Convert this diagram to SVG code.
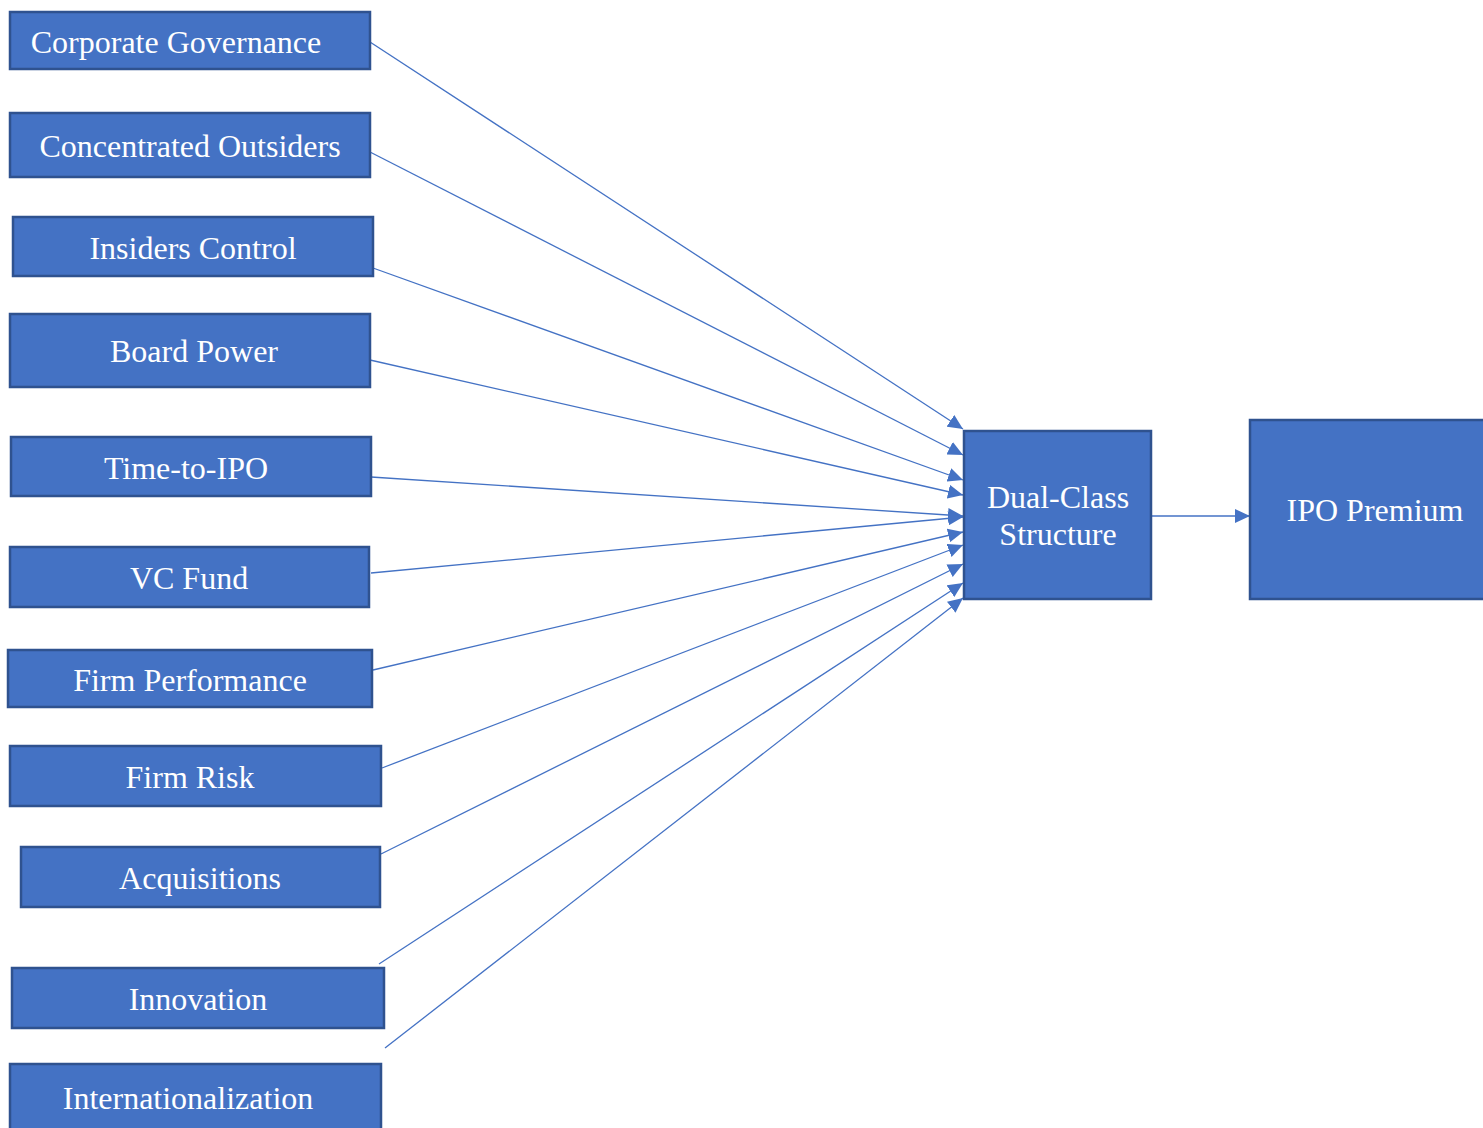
<svg xmlns="http://www.w3.org/2000/svg" width="1483" height="1128" viewBox="0 0 1483 1128">
<defs>
<style>
.box{fill:#4472C4;stroke:#2F528F;stroke-width:2.5}
.lbl{fill:#fff;font-family:"Liberation Serif","Times New Roman",serif;font-size:32px;text-anchor:middle}
.conn{stroke:#4472C4;stroke-width:1.3;fill:none;marker-end:url(#ah)}
</style>
<marker id="ah" markerUnits="userSpaceOnUse" markerWidth="16" markerHeight="14" refX="15" refY="7" orient="auto">
<path d="M0,0 L15,7 L0,14 Z" fill="#4472C4"/>
</marker>
</defs>
<rect width="1483" height="1128" fill="#fff"/>
<g id="connectors">
<line class="conn" x1="370" y1="42" x2="963" y2="429"/>
<line class="conn" x1="370" y1="152" x2="963" y2="455"/>
<line class="conn" x1="373" y1="268" x2="963" y2="480"/>
<line class="conn" x1="370" y1="360" x2="963" y2="495"/>
<line class="conn" x1="371" y1="477" x2="963" y2="516"/>
<line class="conn" x1="371" y1="573" x2="963" y2="517"/>
<line class="conn" x1="373" y1="670" x2="963" y2="532"/>
<line class="conn" x1="382" y1="768" x2="963" y2="545"/>
<line class="conn" x1="381" y1="854" x2="963" y2="564"/>
<line class="conn" x1="379" y1="964" x2="963" y2="583"/>
<line class="conn" x1="385" y1="1048" x2="963" y2="598"/>
<line class="conn" x1="1152" y1="516" x2="1250" y2="516"/>
</g>
<g id="n1"><rect class="box" x="10" y="12" width="360" height="57"/><text class="lbl" x="176" y="53">Corporate Governance</text></g>
<g id="n2"><rect class="box" x="10" y="113" width="360" height="64"/><text class="lbl" x="190" y="157">Concentrated Outsiders</text></g>
<g id="n3"><rect class="box" x="13" y="217" width="360" height="59"/><text class="lbl" x="193" y="259">Insiders Control</text></g>
<g id="n4"><rect class="box" x="10" y="314" width="360" height="73"/><text class="lbl" x="194" y="362">Board Power</text></g>
<g id="n5"><rect class="box" x="11" y="437" width="360" height="59"/><text class="lbl" x="186" y="479">Time-to-IPO</text></g>
<g id="n6"><rect class="box" x="10" y="547" width="359" height="60"/><text class="lbl" x="189" y="589">VC Fund</text></g>
<g id="n7"><rect class="box" x="8" y="650" width="364" height="57"/><text class="lbl" x="190" y="691">Firm Performance</text></g>
<g id="n8"><rect class="box" x="10" y="746" width="371" height="60"/><text class="lbl" x="190" y="788">Firm Risk</text></g>
<g id="n9"><rect class="box" x="21" y="847" width="359" height="60"/><text class="lbl" x="200" y="889">Acquisitions</text></g>
<g id="n10"><rect class="box" x="12" y="968" width="372" height="60"/><text class="lbl" x="198" y="1010">Innovation</text></g>
<g id="n11"><rect class="box" x="10" y="1064" width="371" height="70"/><text class="lbl" x="188" y="1109">Internationalization</text></g>
<g id="dual"><rect class="box" x="964" y="431" width="187" height="168"/><text class="lbl" x="1058" y="508">Dual-Class</text><text class="lbl" x="1058" y="545">Structure</text></g>
<g id="ipo"><rect class="box" x="1250" y="420" width="240" height="179"/><text class="lbl" x="1375" y="521">IPO Premium</text></g>
</svg>
